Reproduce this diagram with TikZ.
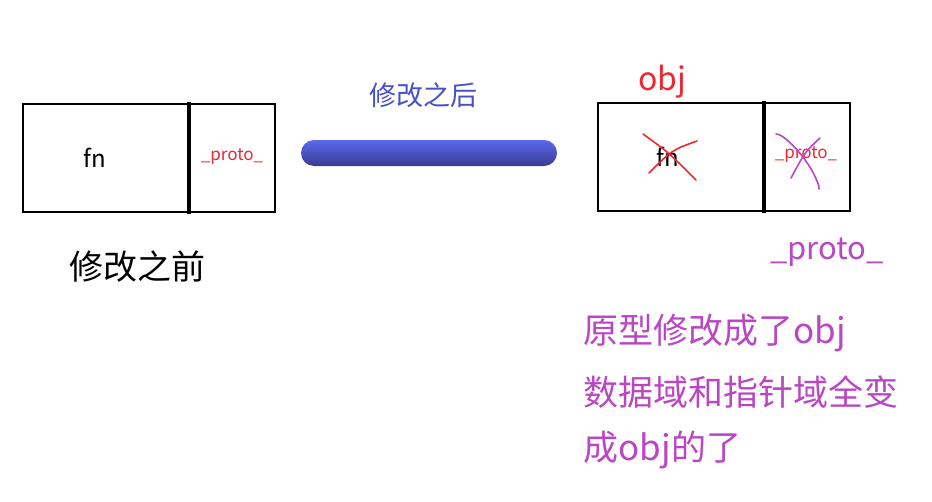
\documentclass[tikz,border=0pt]{standalone}
\usepackage{fontspec}
\setmainfont{Noto Sans CJK SC}
\usepackage{xcolor}
\usepackage{tikz}
\usetikzlibrary{positioning}

\definecolor{protored}{RGB}{238,40,50}
\definecolor{notepurple}{RGB}{185,70,195}
\definecolor{afterblue}{RGB}{70,80,200}
\definecolor{bartop}{RGB}{92,104,238}
\definecolor{barhi}{RGB}{108,122,255}
\definecolor{barlo}{RGB}{58,60,145}

\begin{document}
\begin{tikzpicture}[
        x=1pt, y=-1pt,
        box/.style={draw, line width=2pt},
        divider/.style={line width=3.2pt},
        strike/.style={line width=1.6pt, line cap=round},
        small/.style={font=\fontsize{17}{20}\selectfont},
        big/.style={font=\fontsize{34}{40}\selectfont},
        note/.style={font=\fontsize{35}{40}\selectfont, text=notepurple, anchor=west}
    ]
        \useasboundingbox (0,0) rectangle (932,501);

        % before
        \draw[box] (23,104) rectangle (275,212);
        \draw[divider] (189,102) -- (189,214);
        \node[font=\fontsize{24}{28}\selectfont] (fnL) at (95,158) {fn};
        \node[small, text=protored] (protoL) at (232,157) {\_proto\_};
        \node[big] (before) at (137,267) {修改之前};

        % after
        \node[font=\fontsize{27}{32}\selectfont, text=afterblue] (after) at (423,95) {修改之后};
        \shade[top color=bartop, middle color=barhi, bottom color=barlo, rounded corners=13pt]
            (301,140) rectangle (557,166);

        \draw[box] (598,103) rectangle (850,211);
        \draw[divider] (764,101) -- (764,213);
        \node[font=\fontsize{32}{36}\selectfont, text=protored] (obj) at (662,82) {obj};
        \node[font=\fontsize{24}{28}\selectfont] (fnR) at (668,157) {fn};
        \node[small, text=protored] (protoR) at (806,155) {\_proto\_};
        \draw[strike, protored] (643,134) .. controls (668,152) .. (696,180);
        \draw[strike, protored] (649,173) .. controls (672,150) .. (697,141);
        \draw[strike, notepurple] (776,134) .. controls (783,133) and (808,158) .. (817,181) .. controls (819,186) .. (819,189);
        \draw[strike, notepurple] (820,138) .. controls (805,152) .. (791,178);
        \node[font=\fontsize{31}{36}\selectfont, text=notepurple] (protoOut) at (827,252) {\_proto\_};

        % note
        \node[note] (note1) at (580,333) {原型修改成了obj};
        \node[note] (note2) at (580,392) {数据域和指针域全变};
        \node[note] (note3) at (580,450) {成obj的了};
    \end{tikzpicture}
\end{document}
